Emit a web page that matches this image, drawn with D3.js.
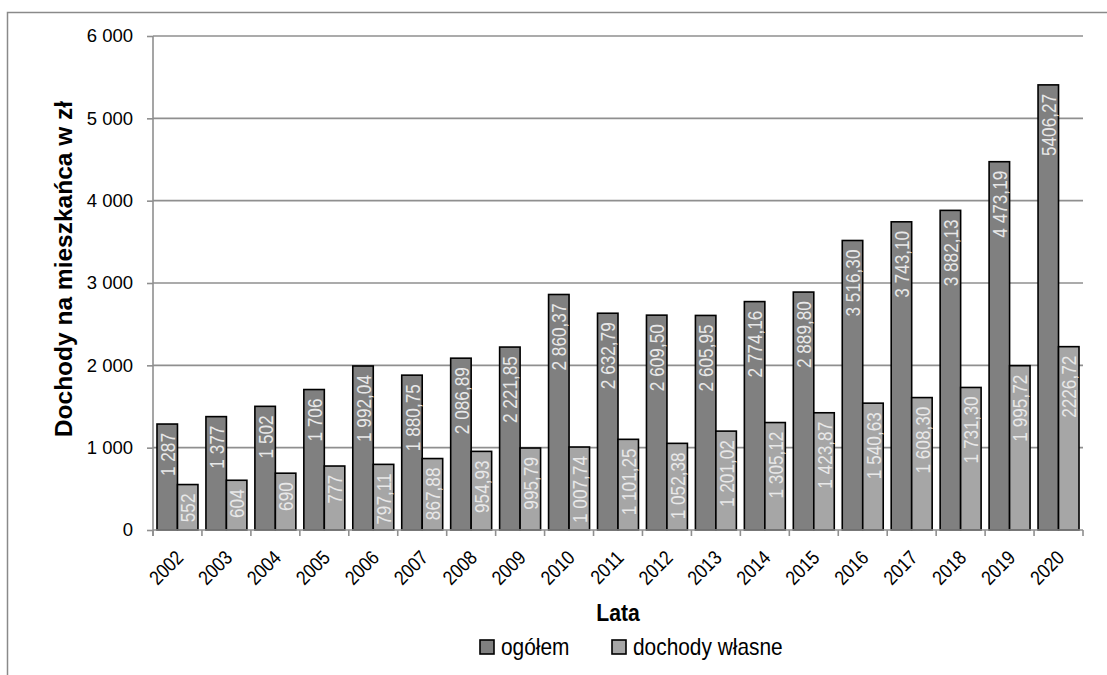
<!DOCTYPE html>
<html>
<head>
<meta charset="utf-8">
<script src="https://cdn.jsdelivr.net/npm/d3@7"></script>
<style>
  html, body { margin: 0; padding: 0; background: #fff; }
  svg { display: block; }
  text { font-family: "Liberation Sans", Arial, sans-serif; }
</style>
</head>
<body>
<svg id="chart" width="1107" height="675"></svg>
<script>
const years = ["2002","2003","2004","2005","2006","2007","2008","2009","2010","2011","2012","2013","2014","2015","2016","2017","2018","2019","2020"];
const ogolem = [1287, 1377, 1502, 1706, 1992.04, 1880.75, 2086.89, 2221.85, 2860.37, 2632.79, 2609.50, 2605.95, 2774.16, 2889.80, 3516.30, 3743.10, 3882.13, 4473.19, 5406.27];
const wlasne = [552, 604, 690, 777, 797.11, 867.88, 954.93, 995.79, 1007.74, 1101.25, 1052.38, 1201.02, 1305.12, 1423.87, 1540.63, 1608.30, 1731.30, 1995.72, 2226.72];
const ogolemLabels = ["1 287","1 377","1 502","1 706","1 992,04","1 880,75","2 086,89","2 221,85","2 860,37","2 632,79","2 609,50","2 605,95","2 774,16","2 889,80","3 516,30","3 743,10","3 882,13","4 473,19","5406,27"];
const wlasneLabels = ["552","604","690","777","797,11","867,88","954,93","995,79","1 007,74","1 101,25","1 052,38","1 201,02","1 305,12","1 423,87","1 540,63","1 608,30","1 731,30","1 995,72","2226,72"];
const seriesNames = ["ogółem", "dochody własne"];
const yTicks = [0, 1000, 2000, 3000, 4000, 5000, 6000];
const yTitle = "Dochody na mieszkańca w zł";
const xTitle = "Lata";

(function () {
const colors = ["#808080", "#a6a6a6"];
const svg = d3.select("#chart");

// outer frame
svg.append("rect").attr("x", 7.5).attr("y", 12.5).attr("width", 1300).attr("height", 900)
  .attr("fill", "none").attr("stroke", "#8a8a8a").attr("stroke-width", 1.5);

const mLeft = 153, mRight = 1083, mTop = 36, mBottom = 530;

const x0 = d3.scaleBand().domain(years).range([mLeft, mRight]).padding(0);
const x1 = d3.scaleBand().domain([0, 1]).range([0, x0.bandwidth()]).paddingInner(0).paddingOuter(0.195);
const y = d3.scaleLinear().domain([0, 6000]).range([mBottom, mTop]);

const loc = d3.formatLocale({decimal: ",", thousands: " ", grouping: [3], currency: ["", " zł"]});
const fmt = loc.format(",d");

// gridlines
svg.append("g").selectAll("line").data(yTicks.filter(d => d > 0)).join("line")
  .attr("x1", mLeft).attr("x2", mRight)
  .attr("y1", d => y(d)).attr("y2", d => y(d))
  .attr("stroke", "#8f8f8f").attr("stroke-width", 1.6);

// bars
const rows = years.map((yr, i) => ({year: yr, vals: [ogolem[i], wlasne[i]], labels: [ogolemLabels[i], wlasneLabels[i]]}));
const groups = svg.append("g").selectAll("g").data(rows).join("g")
  .attr("transform", d => `translate(${x0(d.year)},0)`);

groups.selectAll("rect").data(d => d.vals.map((v, k) => ({k, v}))).join("rect")
  .attr("x", d => x1(d.k)).attr("width", x1.bandwidth())
  .attr("y", d => y(d.v)).attr("height", d => y(0) - y(d.v))
  .attr("fill", d => colors[d.k]).attr("stroke", "#000").attr("stroke-width", 1.6);

groups.selectAll("text").data(d => d.vals.map((v, k) => ({k, v, lab: d.labels[k]}))).join("text")
  .attr("transform", d => `translate(${x1(d.k) + x1.bandwidth() / 2 + 0.5},${y(d.v) + 9}) rotate(-90) scale(0.82,1)`)
  .attr("text-anchor", "end").attr("dominant-baseline", "central")
  .attr("font-size", 21).attr("fill", "#e8e8e8")
  .text(d => d.lab);

// y axis
const yAxis = d3.axisLeft(y).tickValues(yTicks).tickFormat(fmt).tickSize(6).tickPadding(14);
const gy = svg.append("g").attr("transform", `translate(${mLeft},0)`).call(yAxis);
gy.select(".domain").attr("stroke", "#8f8f8f").attr("stroke-width", 1.6).attr("d", `M0,${mTop}V${mBottom + 6}`);
gy.selectAll(".tick line").attr("stroke", "#8f8f8f").attr("stroke-width", 1.6);
gy.selectAll(".tick text").attr("font-size", 18.5).attr("fill", "#000")
  .attr("font-family", "'Liberation Sans', Arial, sans-serif");

// x axis line and boundary ticks
svg.append("line").attr("x1", mLeft).attr("x2", mRight).attr("y1", mBottom).attr("y2", mBottom)
  .attr("stroke", "#8f8f8f").attr("stroke-width", 1.6);
svg.append("g").selectAll("line").data(years.map(d => x0(d)).concat([mRight])).join("line")
  .attr("x1", d => d).attr("x2", d => d).attr("y1", mBottom).attr("y2", mBottom + 6)
  .attr("stroke", "#8f8f8f").attr("stroke-width", 1.6);

svg.append("g").selectAll("text").data(years).join("text")
  .attr("transform", d => `translate(${x0(d) + x0.bandwidth() / 2 + 7},${mBottom + 29}) rotate(-45) scale(0.86,1)`)
  .attr("text-anchor", "end").attr("font-size", 20).attr("fill", "#000")
  .text(d => d);

// titles
svg.append("text").attr("transform", `translate(72,269) rotate(-90)`)
  .attr("text-anchor", "middle").attr("font-size", 24.5).attr("font-weight", "bold").text(yTitle);
svg.append("text").attr("transform", `translate(${(mLeft + mRight) / 2},621) scale(0.9,1)`)
  .attr("text-anchor", "middle").attr("font-size", 23.5).attr("font-weight", "bold").text(xTitle);

// legend
const legX = [480, 612];
const leg = svg.append("g").selectAll("g").data(seriesNames).join("g")
  .attr("transform", (d, i) => `translate(${legX[i]},640)`);
leg.append("rect").attr("width", 14).attr("height", 14)
  .attr("fill", (d, i) => colors[i]).attr("stroke", "#000").attr("stroke-width", 1.6);
leg.append("text").attr("transform", "translate(21,14.5) scale(0.87,1)").attr("font-size", 24).text(d => d);
})();
</script>
</body>
</html>
